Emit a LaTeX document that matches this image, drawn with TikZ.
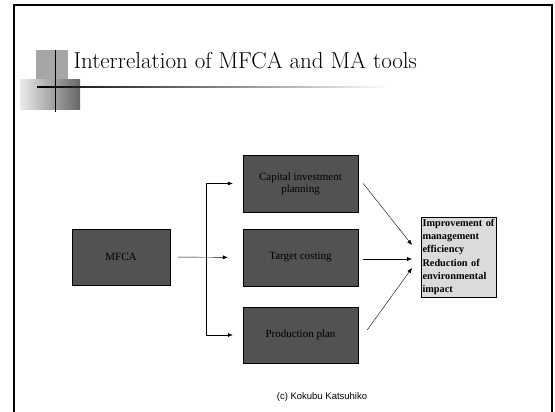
\documentclass[tikz,border=0pt]{standalone}
\usepackage{fontspec}
\usetikzlibrary{arrows.meta}
\newfontfamily\boxfont{Liberation Serif}
\newfontfamily\footfont{Liberation Sans}
\tikzset{
  toolbox/.style={draw=black, fill=black!68, text=black, minimum width=115pt,
    minimum height=57pt, align=center, font=\boxfont\fontsize{11}{12}\selectfont},
  resultbox/.style={draw=black, fill=black!14, text=black, minimum width=73pt,
    minimum height=80pt, inner sep=1.5pt, align=left, text width=72pt,
    font=\boxfont\bfseries\fontsize{10.3}{13.2}\selectfont},
}
\begin{document}
\begin{tikzpicture}[x=1pt, y=-1pt, >={Latex[length=5pt,width=4pt]}]
        \useasboundingbox (0,0) rectangle (555,412);
        % slide frame
        \draw[line width=2.5pt] (14,412) -- (14,5) -- (552,5) -- (552,412);
        % title decoration
        \fill[black!35] (36,50) rectangle (68,80);
        \shade[left color=black!8, right color=black!60] (20,80) rectangle (80,110);
        \shade[left color=black, right color=white] (37,86.5) rectangle (390,88);
        \draw[line width=1pt] (55,50) -- (55,112);
        \node[anchor=base west, font=\fontsize{23}{27}\selectfont] (title) at (70,69) {Interrelation of MFCA and MA tools};
        % boxes
        \node[toolbox, minimum width=98pt, minimum height=56pt] (mfca) at (121,257) {MFCA};
        \node[toolbox] (cip) at (300.5,183.5) {Capital investment\\planning};
        \node[toolbox] (tc) at (300.5,257.5) {Target costing};
        \node[toolbox, minimum height=56pt] (pp) at (300.5,335) {Production plan};
        \node[resultbox] (goal) at (458.5,257) {Improvement of\\management\\efficiency\\Reduction of\\environmental\\impact};
        % branching arrows
        \coordinate (split) at (206,257);
        \draw[->, shorten <=8pt, shorten >=15pt] (mfca.east) -- (tc.west);
        \draw (split |- cip) -- (split |- pp);
        \draw[->, shorten >=10pt] (split |- cip) -- (cip.west);
        \draw[->, shorten >=10pt] (split |- pp) -- (pp.west);
        % arrows to the result
        \coordinate (in1) at (412,245);
        \coordinate (in2) at (412,259);
        \coordinate (in3) at (412,268);
        \draw[->] ([xshift=5pt]cip.east) -- (in1);
        \draw[->] ([xshift=5pt,yshift=-1.5pt]tc.east) -- (in2);
        \draw[->] ([xshift=9pt,yshift=5pt]pp.east) -- (in3);
        \node[font=\footfont\fontsize{9.5}{11}\selectfont] (credit) at (322,397) {(c) Kokubu Katsuhiko};
    \end{tikzpicture}
\end{document}
